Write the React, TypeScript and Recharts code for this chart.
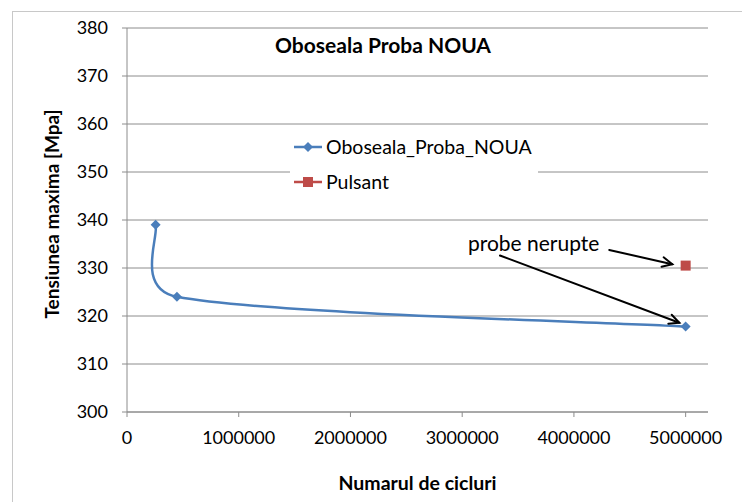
import React from 'react';
import {
  ComposedChart,
  Line,
  XAxis,
  YAxis,
  CartesianGrid,
  ReferenceLine,
  ReferenceDot,
} from 'recharts';

// Oboseala_Proba_NOUA series
const cycles = [256000, 447000, 5000000];
const stress = [339, 324, 317.8];

// Pulsant series
const pulsantCycles = [5000000];
const pulsantStress = [330.5];

const xTicks = [0, 1000000, 2000000, 3000000, 4000000, 5000000];
const yTicks = [300, 310, 320, 330, 340, 350, 360, 370, 380];

// annotation arrows, in data units
const arrows = [
  { from: { x: 4316000, y: 333.75 }, to: { x: 4880000, y: 330.8 } },
  { from: { x: 3338000, y: 332.6 }, to: { x: 4943000, y: 318.6 } },
];

const BLUE = '#4A7EBB';
const RED = '#BE4B48';
const GRID = '#8c8c8c';
const FONT = 'Lato, "Open Sans", sans-serif';

const mainData = cycles.map((x, i) => ({ x, y: stress[i] }));
const pulsantData = pulsantCycles.map((x, i) => ({ x, y: pulsantStress[i] }));

type Pt = [number, number];

// smooth line like the spreadsheet one (bezier, control points limited by segment length)
function excelCurve(context: any) {
  let pts: Pt[] = [];
  const dist = (a: Pt, b: Pt) => Math.hypot(b[0] - a[0], b[1] - a[1]);
  const ctrl = (p: Pt, prev: Pt, next: Pt, segLen: number, sign: number): Pt => {
    const tx = next[0] - prev[0];
    const ty = next[1] - prev[1];
    const len = Math.hypot(tx, ty) || 1;
    const d = Math.min(len / 6, segLen * 0.57);
    return [p[0] + (sign * tx * d) / len, p[1] + (sign * ty * d) / len];
  };
  return {
    areaStart() {},
    areaEnd() {},
    lineStart() {
      pts = [];
    },
    lineEnd() {
      if (!pts.length) return;
      context.moveTo(pts[0][0], pts[0][1]);
      for (let i = 0; i < pts.length - 1; i++) {
        const a = pts[i];
        const b = pts[i + 1];
        const seg = dist(a, b);
        const c1 = ctrl(a, pts[i - 1] || a, b, seg, 1);
        const c2 = ctrl(b, a, pts[i + 2] || b, seg, -1);
        context.bezierCurveTo(c1[0], c1[1], c2[0], c2[1], b[0], b[1]);
      }
    },
    point(x: number, y: number) {
      pts.push([x, y]);
    },
  };
}

const Diamond = (props: any) => {
  const { cx, cy } = props;
  if (cx == null || cy == null) return null;
  return <path d={`M${cx},${cy - 5}L${cx + 5},${cy}L${cx},${cy + 5}L${cx - 5},${cy}Z`} fill={BLUE} />;
};

const Square = (props: any) => {
  const { cx, cy } = props;
  if (cx == null || cy == null) return null;
  return <rect x={cx - 5} y={cy - 5} width={10} height={10} fill={RED} />;
};

const Arrow = (props: any) => {
  const { x1, y1, x2, y2 } = props;
  const ang = Math.atan2(y2 - y1, x2 - x1);
  const h = 11;
  const w = 0.45;
  const ax = x2 - h * Math.cos(ang - w);
  const ay = y2 - h * Math.sin(ang - w);
  const bx = x2 - h * Math.cos(ang + w);
  const by = y2 - h * Math.sin(ang + w);
  return (
    <g stroke="#000" strokeWidth={2} fill="none" strokeLinecap="round">
      <line x1={x1} y1={y1} x2={x2} y2={y2} />
      <path d={`M${ax},${ay}L${x2},${y2}L${bx},${by}`} />
    </g>
  );
};

function LegendBox() {
  const items = [
    { name: 'Oboseala_Proba_NOUA', color: BLUE, marker: 'diamond' },
    { name: 'Pulsant', color: RED, marker: 'square' },
  ];
  return (
    <div
      style={{
        position: 'absolute',
        left: 290,
        top: 129,
        width: 248,
        background: '#fff',
        fontFamily: FONT,
        fontSize: 19.5,
        color: '#000',
      }}
    >
      {items.map((it) => (
        <div key={it.name} style={{ display: 'flex', alignItems: 'center', height: 35, paddingLeft: 4 }}>
          <svg width={30} height={12} style={{ marginRight: 2 }}>
            <line x1={0} y1={6} x2={28} y2={6} stroke={it.color} strokeWidth={2.5} />
            {it.marker === 'diamond' ? (
              <path d="M14,1L19,6L14,11L9,6Z" fill={it.color} />
            ) : (
              <rect x={9} y={1} width={10} height={10} fill={it.color} />
            )}
          </svg>
          <span>{it.name}</span>
        </div>
      ))}
    </div>
  );
}

export default function App() {
  return (
    <div
      style={{
        position: 'absolute',
        left: 0,
        top: 0,
        width: 742,
        height: 502,
        overflow: 'hidden',
        background: '#fff',
        fontFamily: FONT,
      }}
    >
      <div
        style={{
          position: 'absolute',
          left: 12,
          top: 11,
          width: 760,
          height: 520,
          border: '1px solid #c8c8c8',
        }}
      />
      <ComposedChart
        width={742}
        height={502}
        margin={{ top: 28, right: 34, bottom: 0, left: 0 }}
        style={{ position: 'absolute', left: 0, top: 0 }}
      >
        <CartesianGrid vertical={false} stroke={GRID} />
        <XAxis
          type="number"
          dataKey="x"
          domain={[0, 5200000]}
          ticks={xTicks}
          allowDataOverflow
          height={90}
          stroke={GRID}
          tickSize={5}
          tickMargin={14}
          tick={{ fill: '#000', fontSize: 18, fontFamily: FONT }}
          label={{
            value: 'Numarul de cicluri',
            position: 'insideBottom',
            offset: 12,
            fill: '#000',
            fontSize: 19.5,
            fontWeight: 'bold',
            fontFamily: FONT,
          }}
        />
        <YAxis
          type="number"
          domain={[300, 380]}
          ticks={yTicks}
          width={127}
          stroke={GRID}
          tickSize={5}
          tickMargin={14}
          tick={{ fill: '#000', fontSize: 18, fontFamily: FONT }}
          label={{
            value: 'Tensiunea maxima [Mpa]',
            angle: -90,
            position: 'center',
            dx: -11,
            dy: -6,
            fill: '#000',
            fontSize: 19,
            fontWeight: 'bold',
            fontFamily: FONT,
          }}
        />
        <Line
          data={mainData}
          dataKey="y"
          type={excelCurve as any}
          stroke={BLUE}
          strokeWidth={2.5}
          dot={<Diamond />}
          activeDot={false}
          isAnimationActive={false}
        />
        <Line
          data={pulsantData}
          dataKey="y"
          stroke={RED}
          strokeWidth={2.5}
          dot={<Square />}
          activeDot={false}
          isAnimationActive={false}
        />
        {arrows.map((a, i) => (
          <ReferenceLine key={i} segment={[a.from, a.to]} shape={<Arrow />} ifOverflow="visible" />
        ))}
        <ReferenceDot
          x={3640000}
          y={335}
          r={0}
          fill="none"
          stroke="none"
          label={{ value: 'probe nerupte', position: 'center', fill: '#000', fontSize: 21, fontFamily: FONT }}
        />
      </ComposedChart>
      <div
        style={{
          position: 'absolute',
          left: 233,
          top: 32,
          width: 300,
          textAlign: 'center',
          fontSize: 21,
          fontWeight: 'bold',
          color: '#000',
        }}
      >
        Oboseala Proba NOUA
      </div>
      <LegendBox />
    </div>
  );
}
